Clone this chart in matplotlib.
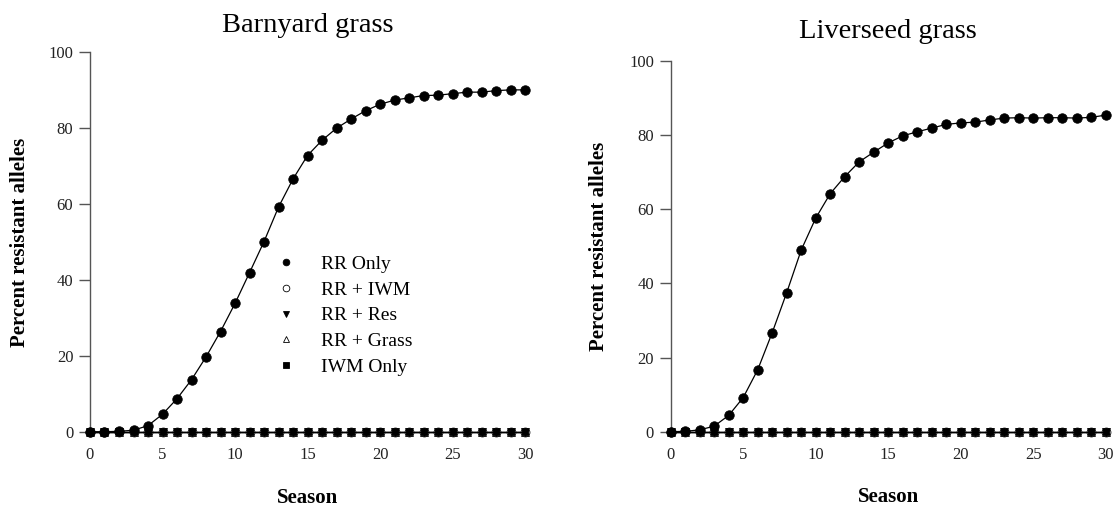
import matplotlib
matplotlib.use("Agg")
import matplotlib.pyplot as plt
from matplotlib.lines import Line2D

plt.rcParams["font.family"] = ["Liberation Serif", "DejaVu Serif"]

season = list(range(31))

# Barnyard grass, percent resistant alleles
barnyard_rr_only = [0.0, 0.0, 0.1, 0.4, 1.6, 4.6, 8.7, 13.7, 19.7, 26.4,
                    33.8, 41.9, 50.1, 59.2, 66.6, 72.8, 76.8, 80.0, 82.4, 84.6,
                    86.3, 87.4, 88.0, 88.6, 88.7, 89.1, 89.5, 89.5, 89.9, 90.1, 90.1]
barnyard_rr_iwm = [0, 0, 0, 0, 0, 0, 0, 0, 0, 0, 0, 0, 0, 0, 0, 0,
                   0, 0, 0, 0, 0, 0, 0, 0, 0, 0, 0, 0, 0, 0, 0]
barnyard_rr_res = [0, 0, 0, 0, 0, 0, 0, 0, 0, 0, 0, 0, 0, 0, 0, 0,
                   0, 0, 0, 0, 0, 0, 0, 0, 0, 0, 0, 0, 0, 0, 0]
barnyard_rr_grass = [0, 0, 0, 0, 0, 0, 0, 0, 0, 0, 0, 0, 0, 0, 0, 0,
                     0, 0, 0, 0, 0, 0, 0, 0, 0, 0, 0, 0, 0, 0, 0]
barnyard_iwm_only = [0, 0, 0, 0, 0, 0, 0, 0, 0, 0, 0, 0, 0, 0, 0, 0,
                     0, 0, 0, 0, 0, 0, 0, 0, 0, 0, 0, 0, 0, 0, 0]

# Liverseed grass
liverseed_rr_only = [0.0, 0.1, 0.5, 1.5, 4.4, 9.2, 16.7, 26.7, 37.5, 49.0,
                     57.6, 64.2, 68.8, 72.8, 75.4, 77.9, 79.8, 80.9, 81.9, 82.9,
                     83.3, 83.5, 84.1, 84.6, 84.7, 84.6, 84.7, 84.7, 84.6, 84.8, 85.4]
liverseed_rr_iwm = [0, 0, 0, 0, 0, 0, 0, 0, 0, 0, 0, 0, 0, 0, 0, 0,
                    0, 0, 0, 0, 0, 0, 0, 0, 0, 0, 0, 0, 0, 0, 0]
liverseed_rr_res = [0, 0, 0, 0, 0, 0, 0, 0, 0, 0, 0, 0, 0, 0, 0, 0,
                    0, 0, 0, 0, 0, 0, 0, 0, 0, 0, 0, 0, 0, 0, 0]
liverseed_rr_grass = [0, 0, 0, 0, 0, 0, 0, 0, 0, 0, 0, 0, 0, 0, 0, 0,
                      0, 0, 0, 0, 0, 0, 0, 0, 0, 0, 0, 0, 0, 0, 0]
liverseed_iwm_only = [0, 0, 0, 0, 0, 0, 0, 0, 0, 0, 0, 0, 0, 0, 0, 0,
                      0, 0, 0, 0, 0, 0, 0, 0, 0, 0, 0, 0, 0, 0, 0]

labels = ["RR Only", "RR + IWM", "RR + Res", "RR + Grass", "IWM Only"]
markers = ["o", "o", "v", "^", "s"]
fills = ["black", "white", "black", "white", "black"]
msizes = [6.8, 6.4, 5.6, 5.6, 5.0]
# open markers underneath, filled ones on top (the zero rows look solid)
layer = [8, 3, 5, 4, 6]

fig = plt.figure(figsize=(11.18, 5.07), dpi=100)
ax1 = fig.add_axes([0.0805, 0.1485, 0.3891, 0.7483])
ax2 = fig.add_axes([0.5999, 0.1485, 0.3891, 0.7312])

panels = [
    (ax1, "Barnyard grass",
     [barnyard_rr_only, barnyard_rr_iwm, barnyard_rr_res, barnyard_rr_grass, barnyard_iwm_only],
     14.8, -0.162, -0.188),
    (ax2, "Liverseed grass",
     [liverseed_rr_only, liverseed_rr_iwm, liverseed_rr_res, liverseed_rr_grass, liverseed_iwm_only],
     16.6, -0.165, -0.19),
]

for ax, title, series, tpad, ylab_x, xlab_y in panels:
    for i in range(len(series)):
        ax.plot(season, series[i], color="black", lw=0.9,
                marker=markers[i], markersize=msizes[i], markerfacecolor=fills[i],
                markeredgecolor="black", markeredgewidth=0.6,
                clip_on=False, zorder=layer[i])

    ax.set_xlim(0, 30)
    ax.set_ylim(0, 100)
    ax.set_xticks([0, 5, 10, 15, 20, 25, 30])
    ax.set_yticks([0, 20, 40, 60, 80, 100])
    for side in ["top", "right", "bottom"]:
        ax.spines[side].set_visible(False)
    ax.spines["left"].set_color("#555555")
    ax.spines["left"].set_linewidth(1.0)
    ax.tick_params(axis="x", length=0, pad=11, labelsize=12, labelcolor="#222222")
    ax.tick_params(axis="y", length=8, width=1.0, color="#555555", pad=4,
                   labelsize=12, labelcolor="#222222")

    ax.set_title(title, fontsize=20.5, pad=tpad)
    ax.set_ylabel("Percent resistant alleles", fontsize=15, fontweight="bold")
    ax.yaxis.label.set_va("center")
    ax.yaxis.set_label_coords(ylab_x, 0.5)
    ax.set_xlabel("Season", fontsize=15, fontweight="bold")
    ax.xaxis.label.set_va("baseline")
    ax.xaxis.set_label_coords(0.5, xlab_y)

handles = [Line2D([], [], linestyle="none", marker=markers[i], markersize=4.8,
                  markerfacecolor=fills[i], markeredgecolor="black",
                  markeredgewidth=0.6)
           for i in range(len(labels))]
ax1.legend(handles, labels, loc="center left", bbox_to_anchor=(0.405, 0.306),
           frameon=False, fontsize=14, borderpad=0, borderaxespad=0,
           handlelength=2.0, handletextpad=0.8, labelspacing=0.42)

fig.savefig("out.png", dpi=100)
